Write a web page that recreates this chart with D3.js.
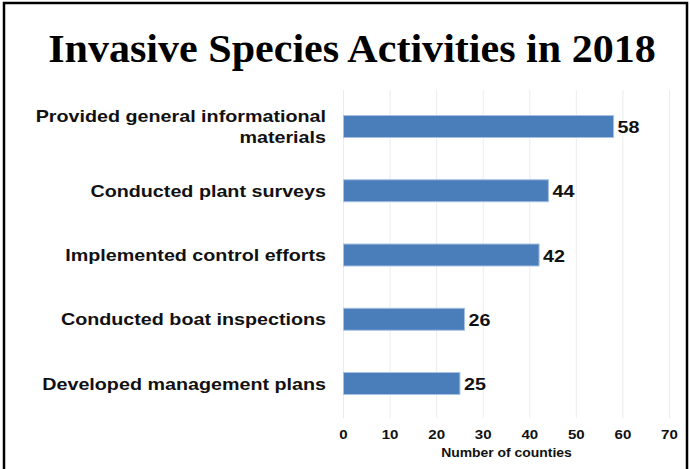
<!DOCTYPE html>
<html>
<head>
<meta charset="utf-8">
<script src="https://cdn.jsdelivr.net/npm/d3@7"></script>
<style>
  html, body { margin: 0; padding: 0; background: #fff; }
  svg { display: block; }
</style>
</head>
<body>
<svg id="chart" width="690" height="469"></svg>
<script>
const titleText = "Invasive Species Activities in 2018";
const categories = [
  "Provided general informational\nmaterials",
  "Conducted plant surveys",
  "Implemented control efforts",
  "Conducted boat inspections",
  "Developed management plans"
];
const values = [58, 44, 42, 26, 25];
const xTicks = [0, 10, 20, 30, 40, 50, 60, 70];
const xTitle = "Number of counties";

const svg = d3.select("#chart");
const STRETCH = 1.16;

// frame
svg.append("rect").attr("x", 4).attr("y", 3).attr("width", 683).attr("height", 480)
  .attr("fill", "#fff").attr("stroke", "#000").attr("stroke-width", 2.5);

const x = d3.scaleLinear().domain([0, 70]).range([343.5, 669.5]);
const y = d3.scalePoint().domain(categories).range([126.5, 383.5]);
const barH = 22;

// gridlines
svg.append("g").selectAll("line").data(xTicks).join("line")
  .attr("x1", d => x(d)).attr("x2", d => x(d))
  .attr("y1", 90).attr("y2", 418)
  .attr("stroke", "#ececec").attr("stroke-width", 1);

// helper to stretch text horizontally around its anchor point
function place(sel, px, py, k) {
  sel.attr("x", 0).attr("y", 0)
     .attr("transform", `translate(${px},${py}) scale(${k},1)`);
}

// title
const t = svg.append("text").text(titleText)
  .attr("font-family", "'Liberation Serif', 'Times New Roman', serif")
  .attr("font-weight", "bold").attr("font-size", 41)
  .attr("text-anchor", "middle").attr("fill", "#000");
const tLen = t.node().getComputedTextLength();
place(t, 352, 62, 608 / tLen);

// bars
svg.append("g").selectAll("rect").data(values).join("rect")
  .attr("x", x(0))
  .attr("y", (d, i) => y(categories[i]) - barH / 2)
  .attr("width", d => x(d) - x(0))
  .attr("height", barH)
  .attr("fill", "#4a7ebb")
  .attr("stroke", "#a8c1e3").attr("stroke-width", 1);

const sans = "'Liberation Sans', Arial, Helvetica, sans-serif";

// category labels
categories.forEach((c, i) => {
  const lines = c.split("\n");
  const cy = y(c);
  const lh = 20.5;
  lines.forEach((ln, j) => {
    const by = cy + 6 + (j - (lines.length - 1) / 2) * lh;
    const tx = svg.append("text").text(ln)
      .attr("font-family", sans).attr("font-weight", "bold").attr("font-size", 17)
      .attr("text-anchor", "end").attr("fill", "#111");
    place(tx, 326, by, STRETCH);
  });
});

// value labels
values.forEach((v, i) => {
  const tx = svg.append("text").text(v)
    .attr("font-family", sans).attr("font-weight", "bold").attr("font-size", 17)
    .attr("text-anchor", "start").attr("fill", "#111");
  place(tx, x(v) + 4, y(categories[i]) + 6.5, STRETCH);
});

// x tick labels
xTicks.forEach(d => {
  const tx = svg.append("text").text(d)
    .attr("font-family", sans).attr("font-weight", "bold").attr("font-size", 13)
    .attr("text-anchor", "middle").attr("fill", "#111");
  place(tx, x(d), 438.5, STRETCH);
});

// axis title
const at = svg.append("text").text(xTitle)
  .attr("font-family", sans).attr("font-weight", "bold").attr("font-size", 12)
  .attr("text-anchor", "middle").attr("fill", "#111");
place(at, (x(0) + x(70)) / 2, 456.5, STRETCH);
</script>
</body>
</html>
